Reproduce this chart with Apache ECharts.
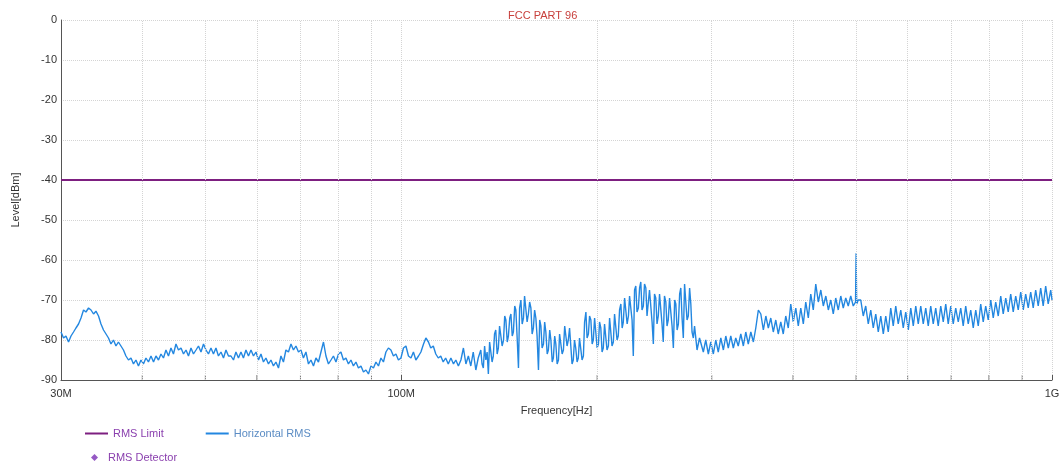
<!DOCTYPE html>
<html>
<head>
<meta charset="utf-8">
<script src="https://cdn.jsdelivr.net/npm/echarts/dist/echarts.min.js"></script>
<style>html,body{margin:0;padding:0;background:#fff;}#c{width:1064px;height:465px;}</style>
</head>
<body>
<div id="c"></div>
<script>
// Frequencies in MHz
const freqMHz = [
30.00,30.27,30.53,30.81, 31.08,31.36,31.63,31.92, 32.20,32.49,32.77,33.07, 33.36,33.66,33.95,34.26,
34.56,34.87,35.18,35.49, 35.80,36.12,36.44,36.76, 37.09,37.42,37.75,38.09, 38.43,38.77,39.11,39.46,
39.81,40.16,40.52,40.88, 41.25,41.62,41.98,42.36, 42.73,43.11,43.49,43.88, 44.27,44.66,45.06,45.46,
45.87,46.28,46.69,47.10, 47.52,47.94,48.37,48.80, 49.23,49.67,50.11,50.55, 51.00,51.45,51.91,52.37,
52.84,53.31,53.78,54.26, 54.74,55.23,55.71,56.21, 56.71,57.21,57.72,58.24, 58.76,59.28,59.81,60.34,
60.87,61.41,61.95,62.51, 63.06,63.62,64.18,64.76, 65.33,65.91,66.49,67.09, 67.69,68.29,68.89,69.51,
70.12,70.74,71.37,72.01, 72.65,73.30,73.94,74.61, 75.27,75.94,76.61,77.29, 77.98,78.67,79.37,80.08,
80.78,81.50,82.22,82.95, 83.69,84.43,85.18,85.94, 86.71,87.48,88.25,89.04, 89.83,90.63,91.43,92.25,
93.06,93.89,94.72,95.56, 96.41,97.27,98.13,99.00, 99.89,100.78,101.67,102.58, 103.5,104.4,105.3,106.3,
107.2,108.2,109.1,110.1, 111.0,112.0,113.0,114.0, 115.0,116.0,117.0,118.1, 119.2,120.3,121.3,122.4,
123.5,124.6,125.7,126.8, 127.9,129.0,130.2,131.3,
132.5,133.1,133.7,134.3,134.9,135.5,136.1,136.7, 137.3,137.9,138.5,139.1,139.7,140.4,141.0,141.6,
142.3,142.9,143.6,144.2,144.8,145.5,146.1,146.8, 147.4,148.1,148.7,149.4,150.0,150.7,151.4,152.0,
152.7,153.4,154.1,154.7,155.4,156.1,156.8,157.5, 158.2,158.9,159.6,160.3,161.0,161.7,162.5,163.2,
163.9,164.6,165.4,166.1,166.8,167.6,168.3,169.1, 169.8,170.6,171.3,172.1,172.8,173.6,174.4,175.1,
175.9,176.7,177.5,178.3,179.0,179.8,180.6,181.4, 182.2,183.0,183.8,184.6,185.4,186.3,187.1,187.9,
188.8,189.6,190.5,191.3,192.2,193.0,193.9,194.7, 195.6,196.5,197.3,198.2,199.1,200.0,200.9,201.7,
202.6,203.5,204.4,205.3,206.2,207.1,208.1,209.0, 209.9,210.8,211.8,212.7,213.6,214.6,215.5,216.5,
217.5,218.5,219.4,220.4,221.4,222.4,223.4,224.3, 225.3,226.3,227.3,228.3,229.3,230.3,231.4,232.4,
233.4,234.4,235.5,236.5,237.6,238.6,239.7,240.7, 241.8,242.9,244.0,245.0,246.1,247.2,248.3,249.4,
250.5,251.6,252.7,253.8,255.0,256.1,257.2,258.4, 259.6,260.7,261.9,263.1,264.2,265.4,266.6,267.8,
268.9,270.1,271.3,272.5,273.7,274.9,276.1,277.4, 278.6,279.8,281.1,282.3,283.6,284.8,286.1,287.3,
288.6,291.2,293.7,296.4, 299.0,301.7,304.3,307.0, 309.8,312.6,315.3,318.1, 320.9,323.8,326.6,329.5,
332.5,335.5,338.4,341.4, 344.5,347.6,350.6,353.8, 356.9,360.1,363.3,366.5, 369.7,373.0,376.3,379.6,
383.0,386.4,389.8,393.3, 396.8,400.3,403.9,407.5, 411.1,414.8,418.4,422.2, 425.9,429.7,433.5,437.4,
441.3,445.2,449.2,453.2, 457.1,461.2,465.2,469.4, 473.6,477.8,482.0,486.3,
490.6,495.0,499.0,500.0,501.0,503.8,
508.3,512.8,517.3,522.0, 526.6,531.3,536.0,540.8, 545.6,550.5,555.3,560.3, 565.2,570.2,575.3,580.4,
585.6,590.8,596.0,601.4, 606.7,612.1,617.5,623.0, 628.5,634.1,639.7,645.4, 651.1,656.9,662.7,668.6,
674.6,680.6,686.6,692.7, 698.9,705.1,711.3,717.7, 724.0,730.4,736.9,743.5, 750.1,756.8,763.5,770.3,
777.1,784.0,790.9,798.0, 805.1,812.3,819.4,826.8, 834.1,841.5,849.0,856.5, 864.1,871.8,879.5,887.4,
895.2,903.2,911.1,919.3, 927.4,935.7,943.9,952.4, 960.8,969.3,977.9,986.6, 995.4,1000
];
// Horizontal RMS level in dBm
const levelDbm = [
-78.0,-79.5,-79.0,-80.5, -79.0,-78.0,-77.0,-76.0, -74.5,-72.5,-73.0,-72.0, -72.5,-73.5,-72.8,-74.0,
-76.0,-77.5,-78.5,-79.5, -81.0,-80.0,-81.5,-80.5, -81.5,-82.5,-84.0,-85.0, -84.5,-86.0,-85.0,-86.5,
-85.0,-86.0,-84.5,-85.5, -84.0,-85.5,-84.0,-85.0, -83.5,-84.5,-82.5,-84.0, -82.0,-83.5,-81.0,-82.5,
-82.0,-83.5,-82.5,-84.0, -82.0,-83.5,-82.5,-81.5, -83.0,-81.0,-82.5,-83.5, -82.0,-83.5,-82.0,-84.0,
-83.0,-84.5,-82.5,-84.0, -84.0,-85.0,-83.0,-84.5, -83.0,-84.5,-82.5,-84.0, -82.5,-84.0,-83.0,-85.0,
-83.5,-85.5,-84.5,-86.0, -85.0,-86.5,-85.5,-87.0, -84.0,-85.5,-82.5,-83.0, -81.0,-82.5,-81.5,-83.0,
-82.5,-84.5,-83.0,-86.0, -85.0,-86.5,-84.5,-85.5, -83.0,-80.5,-84.0,-86.0, -85.0,-84.0,-85.5,-83.5,
-83.0,-85.0,-84.5,-86.0, -85.0,-86.5,-85.5,-87.0, -86.5,-88.0,-87.5,-88.5, -86.5,-87.0,-85.5,-86.5,
-84.5,-85.5,-83.0,-82.0, -82.5,-84.0,-83.5,-85.0, -84.5,-82.0,-81.5,-84.0, -84.5,-83.0,-85.0,-84.0,
-83.0,-81.0,-79.5,-80.5, -82.0,-81.5,-83.5,-84.5, -84.0,-85.5,-84.5,-86.0, -84.5,-86.0,-85.0,-86.5,
-85.0,-82.0,-86.0,-84.0, -86.5,-83.0,-87.5,-84.5,
-82.5,-86.0,-87.0,-81.5,-85.0,-83.0,-88.5,-80.5, -80.0,-85.5,-84.0,-78.5,-77.5,-83.5,-82.0,-76.5,
-76.5,-81.5,-80.0,-74.0,-75.0,-80.5,-79.0,-74.5, -73.5,-79.0,-78.0,-71.5,-72.5,-79.5,-87.0,-72.0,
-70.0,-76.0,-74.5,-69.0,-69.5,-75.5,-73.5,-70.5, -72.0,-78.5,-77.0,-72.5,-74.5,-79.0,-87.5,-75.0,
-76.5,-82.0,-81.0,-75.5,-78.0,-83.5,-82.5,-77.5, -80.0,-85.5,-84.5,-79.0,-81.0,-86.0,-85.0,-78.5,
-78.0,-83.5,-82.5,-76.5,-76.0,-81.5,-80.0,-77.0, -81.5,-86.0,-85.0,-80.0,-82.0,-85.5,-84.5,-79.5,
-80.0,-85.0,-84.0,-75.5,-73.0,-79.5,-78.5,-74.0, -75.0,-81.0,-80.0,-74.5,-74.5,-82.0,-81.0,-75.5,
-77.0,-83.0,-82.0,-76.0,-75.5,-82.5,-81.5,-74.5, -75.0,-81.5,-80.5,-73.5,-74.0,-80.0,-79.0,-72.5,
-71.0,-77.0,-75.5,-69.5,-70.0,-76.0,-74.0,-69.0, -68.5,-75.0,-84.0,-67.5,-66.5,-73.0,-72.0,-67.0,
-65.5,-72.5,-71.5,-66.0,-67.0,-74.0,-73.5,-67.5, -68.0,-75.5,-81.0,-68.5,-69.5,-76.0,-74.0,-68.5,
-68.0,-76.0,-80.5,-69.0,-70.5,-76.5,-75.0,-69.5, -69.0,-76.5,-82.0,-70.0,-71.0,-77.5,-76.0,-68.5,
-67.0,-74.5,-79.5,-66.0,-66.5,-75.0,-74.0,-67.0, -71.0,-78.0,-79.5,-76.5,-77.0,-82.5,-82.0,-79.5,
-79.5,-83.0,-80.0,-83.5, -80.5,-83.5,-80.0,-83.0, -79.5,-82.5,-79.0,-82.0, -79.0,-82.0,-79.5,-81.5,
-78.5,-81.5,-78.0,-81.0, -78.0,-80.5,-77.0,-72.5, -73.5,-77.5,-74.0,-77.0, -74.5,-78.0,-75.0,-78.5,
-75.5,-78.5,-74.0,-77.0, -71.0,-75.5,-72.0,-76.5, -72.0,-76.0,-70.5,-74.5, -68.5,-72.5,-66.0,-70.5,
-67.5,-71.5,-69.0,-72.5, -70.0,-73.5,-69.5,-72.5, -69.0,-72.0,-69.5,-71.5,
-69.0,-71.5,-70.5,-58.3,-71.0,-70.0,
-70.0,-74.0,-71.5,-76.0, -72.5,-77.0,-73.5,-78.0, -74.0,-78.5,-74.0,-78.0, -72.0,-76.5,-71.5,-76.0,
-72.5,-77.0,-73.0,-77.5, -72.0,-76.5,-71.5,-76.0, -71.5,-76.0,-72.0,-76.5, -71.5,-76.0,-72.0,-76.5,
-71.5,-75.5,-71.0,-76.0, -71.5,-76.0,-72.0,-75.5, -72.0,-76.5,-71.5,-76.0, -72.5,-77.0,-72.5,-76.5,
-71.0,-75.5,-71.5,-75.0, -70.0,-74.5,-70.5,-74.0, -69.0,-73.5,-69.5,-73.0, -68.5,-73.0,-69.0,-72.5,
-68.0,-72.5,-68.5,-72.0, -68.0,-72.0,-67.5,-71.5, -67.0,-71.5,-66.5,-71.0, -67.5,-70.0
];
const limitFreqMHz = [30, 1000];
const limitDbm = [-40, -40];
const gridFreqMHz = [40, 50, 60, 70, 80, 90, 200, 300, 400, 500, 600, 700, 800, 900];
const yTicks = { min: -90, max: 0, step: 10 };

const MHz = 1e6;
const traceData = freqMHz.map((f, i) => [f * MHz, levelDbm[i]]);
const limitData = limitFreqMHz.map((f, i) => [f * MHz, limitDbm[i]]);
limitData[limitData.length - 1] = {
  value: limitData[limitData.length - 1],
  label: { show: true, position: 'top', align: 'right', distance: 5, offset: [-2, 0],
           formatter: 'FCC PART 96-RMS Limit', color: '#8a3fae', fontSize: 11 }
};
const tickData = gridFreqMHz.map(f => [f * MHz, yTicks.min]);

const font = "'Liberation Sans', Arial, sans-serif";
const chart = echarts.init(document.getElementById('c'), null, { renderer: 'canvas' });
chart.setOption({
  animation: false,
  textStyle: { fontFamily: font },
  title: {
    text: 'FCC PART 96', left: 503, top: 5,
    textStyle: { color: '#c8403c', fontSize: 11, fontWeight: 'normal', fontFamily: font }
  },
  grid: { left: 61, right: 12, top: 20, bottom: 85 },
  legend: [
    {
      data: [
        { name: 'RMS Limit', icon: 'rect', textStyle: { color: '#8a3fae' } },
        { name: 'Horizontal RMS', icon: 'rect', textStyle: { color: '#5b8cc4' } }
      ],
      left: 80, top: 423, itemWidth: 23, itemHeight: 2, itemGap: 42,
      textStyle: { fontSize: 11, fontFamily: font }
    },
    {
      data: [{ name: 'RMS Detector', icon: 'diamond', textStyle: { color: '#8a3fae' } }],
      left: 86, top: 447, itemWidth: 7, itemHeight: 7,
      textStyle: { fontSize: 11, fontFamily: font, padding: [0, 0, 0, 5] }
    }
  ],
  xAxis: {
    type: 'log', logBase: 10, min: 30 * MHz, max: 1000 * MHz,
    name: 'Frequency[Hz]', nameLocation: 'middle', nameGap: 25,
    nameTextStyle: { color: '#333', fontSize: 11 },
    axisLine: { onZero: false, lineStyle: { color: '#555', width: 1 } },
    axisTick: { show: true, inside: true, length: 5, lineStyle: { color: '#555' } },
    axisLabel: {
      color: '#333', fontSize: 11, showMinLabel: true, showMaxLabel: true,
      formatter: v => v >= 999 * MHz ? Math.round(v / 1e9) + 'G' : Math.round(v / MHz) + 'M'
    },
    splitLine: { show: true, lineStyle: { color: '#d4d4d4', type: 'dotted' } }
  },
  yAxis: {
    type: 'value', min: yTicks.min, max: yTicks.max, interval: yTicks.step,
    name: 'Level[dBm]', nameLocation: 'middle', nameGap: 40,
    nameTextStyle: { color: '#333', fontSize: 11 },
    axisLine: { show: true, onZero: false, lineStyle: { color: '#555' } },
    axisTick: { show: false },
    axisLabel: { color: '#333', fontSize: 11, margin: 4 },
    splitLine: { show: true, lineStyle: { color: '#d4d4d4', type: 'dotted' } }
  },
  series: [
    {
      name: 'grid', type: 'line', data: [], silent: true, z: 0,
      markLine: {
        silent: true, symbol: 'none', label: { show: false },
        lineStyle: { color: '#d4d4d4', type: 'dotted', width: 1 },
        data: gridFreqMHz.map(f => ({ xAxis: f * MHz }))
      }
    },
    {
      name: 'ticks', type: 'scatter', data: tickData, silent: true, z: 1,
      symbol: 'rect', symbolSize: [1, 5], symbolOffset: [0, -2.5],
      itemStyle: { color: '#555' }, clip: false
    },
    {
      name: 'Horizontal RMS', type: 'line', data: traceData, symbol: 'none',
      showSymbol: false, z: 3,
      lineStyle: { color: '#2387e0', width: 1.4 }, itemStyle: { color: '#2387e0' }
    },
    {
      name: 'RMS Limit', type: 'line', data: limitData, symbol: 'none', z: 4,
      lineStyle: { color: '#7d1f80', width: 2 }, itemStyle: { color: '#7d1f80' }
    },
    {
      name: 'RMS Detector', type: 'scatter', data: [], symbol: 'diamond',
      itemStyle: { color: '#7a2fb5' }
    }
  ]
});
</script>
</body>
</html>
